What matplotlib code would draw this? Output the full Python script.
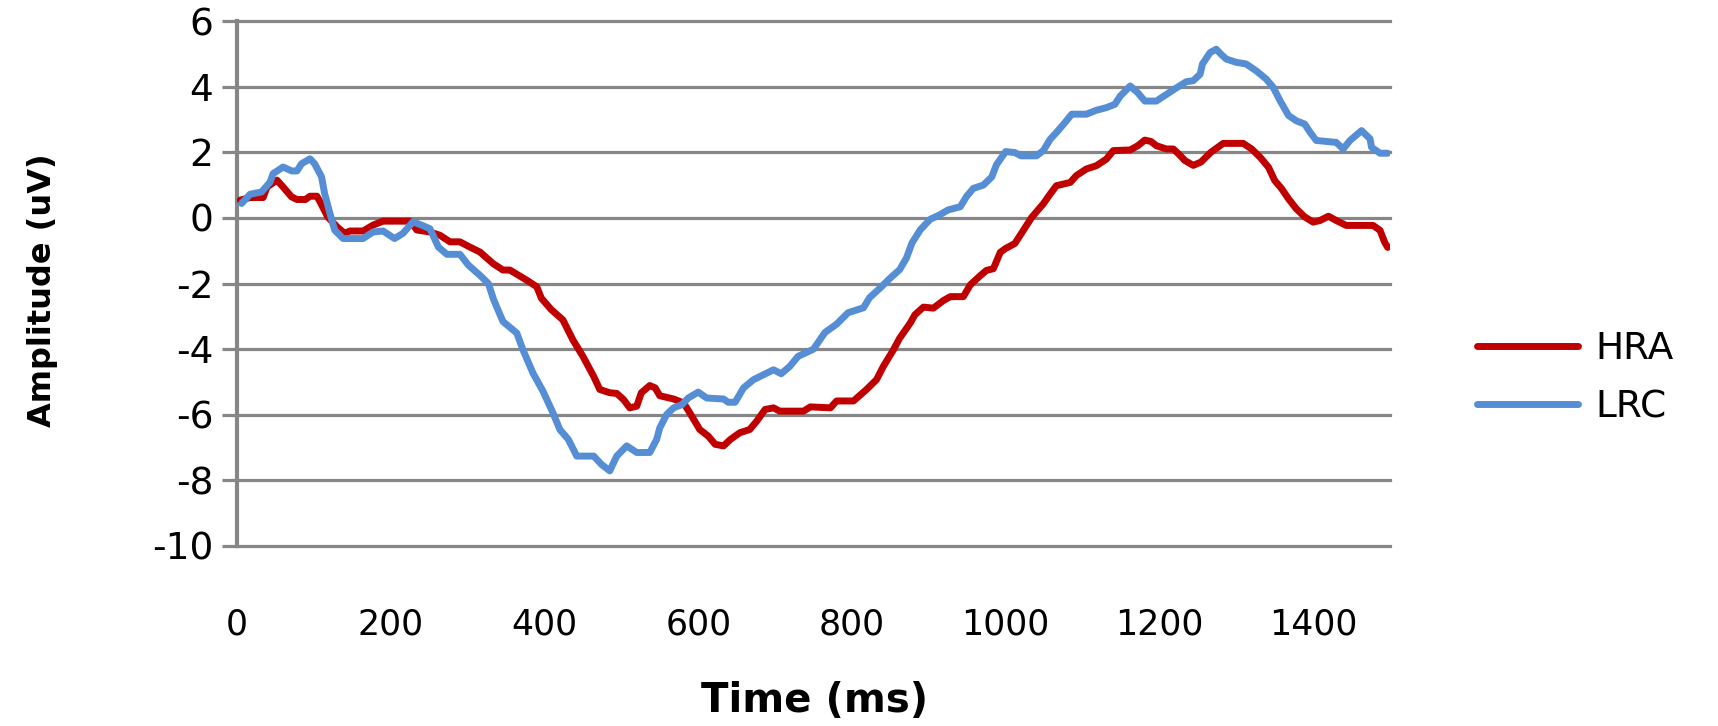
'''plot.py

   Amplitude of the HRA and LRC waveforms over time.
'''

import numpy as np
import matplotlib
matplotlib.use('Agg')
import matplotlib.pyplot as plt


#
#  Data
#
hra_t = [4, 17, 34, 39, 52, 60, 71, 78, 89, 95, 104, 108, 118, 130, 140,
         147, 164, 177, 190, 225, 234, 251, 264, 277, 290, 303, 316, 333,
         346, 355, 377, 390, 396, 409, 424, 437, 450, 464, 472, 485, 494,
         503, 511, 520, 526, 537, 544, 550, 568, 581, 589, 602, 613, 622,
         633, 642, 654, 667, 676, 687, 698, 706, 737, 746, 772, 780, 802,
         819, 832, 841, 854, 862, 876, 882, 893, 906, 919, 928, 945, 954,
         967, 975, 984, 993, 1000, 1012, 1023, 1034, 1049, 1058, 1066, 1084,
         1092, 1105, 1118, 1131, 1140, 1162, 1172, 1181, 1189, 1196, 1209,
         1218, 1225, 1233, 1244, 1254, 1267, 1283, 1309, 1320, 1331, 1342,
         1350, 1359, 1368, 1378, 1389, 1400, 1409, 1420, 1430, 1443, 1478,
         1487, 1493, 1497]
hra_v = [0.54, 0.62, 0.62, 0.94, 1.15, 0.94, 0.64, 0.56, 0.56, 0.66, 0.66,
         0.49, 0.03, -0.27, -0.47, -0.40, -0.40, -0.22, -0.10, -0.10, -0.37,
         -0.43, -0.53, -0.73, -0.73, -0.89, -1.04, -1.39, -1.59, -1.59,
         -1.90, -2.10, -2.45, -2.80, -3.11, -3.72, -4.22, -4.83, -5.23,
         -5.33, -5.35, -5.54, -5.79, -5.74, -5.33, -5.11, -5.18, -5.42,
         -5.52, -5.64, -5.94, -6.45, -6.65, -6.90, -6.95, -6.75, -6.55,
         -6.45, -6.20, -5.84, -5.79, -5.89, -5.89, -5.76, -5.79, -5.58,
         -5.58, -5.23, -4.93, -4.52, -4.02, -3.67, -3.20, -2.95, -2.72,
         -2.75, -2.52, -2.40, -2.40, -2.04, -1.76, -1.60, -1.55, -1.05,
         -0.93, -0.78, -0.38, 0.02, 0.43, 0.73, 0.98, 1.08, 1.29, 1.49, 1.59,
         1.79, 2.05, 2.07, 2.20, 2.37, 2.33, 2.20, 2.10, 2.10, 1.95, 1.75,
         1.60, 1.70, 2.00, 2.27, 2.27, 2.10, 1.85, 1.54, 1.14, 0.89, 0.58,
         0.28, 0.03, -0.13, -0.08, 0.05, -0.08, -0.23, -0.23, -0.38, -0.74,
         -0.90]

lrc_t = [6, 17, 32, 43, 47, 60, 71, 78, 84, 95, 101, 110, 114, 121, 127,
         138, 164, 177, 190, 205, 216, 229, 240, 251, 262, 273, 290, 301,
         316, 327, 334, 346, 364, 372, 385, 398, 411, 420, 431, 442, 464,
         474, 485, 494, 507, 520, 537, 546, 550, 559, 568, 579, 587, 600,
         611, 633, 639, 648, 659, 672, 685, 698, 708, 719, 730, 750, 765,
         780, 795, 815, 823, 837, 850, 862, 871, 878, 889, 902, 914, 925,
         941, 949, 958, 971, 982, 988, 1000, 1012, 1020, 1040, 1049, 1058,
         1066, 1077, 1086, 1105, 1118, 1131, 1142, 1149, 1162, 1172, 1181,
         1196, 1209, 1222, 1235, 1244, 1253, 1256, 1266, 1274, 1280, 1287,
         1300, 1313, 1326, 1339, 1348, 1357, 1368, 1378, 1389, 1396, 1404,
         1430, 1439, 1448, 1463, 1474, 1476, 1487, 1497]
lrc_v = [0.44, 0.72, 0.79, 1.09, 1.35, 1.55, 1.43, 1.43, 1.65, 1.80, 1.65,
         1.25, 0.74, 0.13, -0.37, -0.63, -0.63, -0.43, -0.40, -0.63, -0.47,
         -0.12, -0.22, -0.33, -0.89, -1.11, -1.11, -1.44, -1.75, -2.00,
         -2.50, -3.16, -3.51, -4.02, -4.73, -5.28, -5.94, -6.45, -6.75,
         -7.26, -7.26, -7.51, -7.71, -7.26, -6.95, -7.15, -7.15, -6.75,
         -6.40, -5.99, -5.79, -5.69, -5.49, -5.31, -5.49, -5.52, -5.62,
         -5.62, -5.18, -4.93, -4.78, -4.63, -4.75, -4.53, -4.22, -4.00,
         -3.49, -3.24, -2.89, -2.74, -2.43, -2.13, -1.83, -1.58, -1.22,
         -0.77, -0.36, -0.04, 0.09, 0.24, 0.34, 0.65, 0.90, 1.00, 1.25, 1.62,
         2.02, 1.99, 1.89, 1.89, 2.05, 2.40, 2.60, 2.90, 3.16, 3.16, 3.28,
         3.36, 3.46, 3.71, 4.02, 3.81, 3.56, 3.56, 3.76, 3.96, 4.15, 4.18,
         4.38, 4.69, 5.04, 5.14, 4.99, 4.84, 4.74, 4.69, 4.48, 4.23, 3.98,
         3.57, 3.12, 2.96, 2.86, 2.61, 2.36, 2.30, 2.10, 2.36, 2.66, 2.41,
         2.15, 1.97, 1.97]

x_ticks = [0, 200, 400, 600, 800, 1000, 1200, 1400]
y_ticks = [-10, -8, -6, -4, -2, 0, 2, 4, 6]

RED  = '#C00000'
BLUE = '#558ED5'
GREY = '#868686'


#
#  Figure and axes
#
plt.rcParams['font.family'] = ['DejaVu Sans']
plt.rcParams['axes.unicode_minus'] = False     # plain hyphen like the original

fig = plt.figure(figsize=(17.18, 7.26), dpi=100)
ax = fig.add_axes([237/1718, 1 - 546/726, 1153/1718, 525/726])

ax.plot(hra_t, hra_v, color=RED,  lw=5.0, solid_joinstyle='round',
        solid_capstyle='round', label='HRA', zorder=3)
ax.plot(lrc_t, lrc_v, color=BLUE, lw=5.0, solid_joinstyle='round',
        solid_capstyle='round', label='LRC', zorder=3)

ax.set_xlim(0, 1500)
ax.set_ylim(-10, 6)
ax.set_xticks(x_ticks)
ax.set_yticks(y_ticks)

# Grid and spines
ax.set_axisbelow(True)
ax.yaxis.grid(True, color=GREY, lw=2.3)
ax.xaxis.grid(False)
for gl in ax.yaxis.get_gridlines():
    gl.set_clip_on(False)
for side in ['top', 'right', 'bottom']:
    ax.spines[side].set_visible(False)
ax.spines['left'].set_color(GREY)
ax.spines['left'].set_linewidth(3)

ax.tick_params(axis='y', direction='out', length=11, width=2.3,
               color=GREY, pad=6, labelsize=27)
ax.tick_params(axis='x', length=0, pad=44, labelsize=25)

# Axis labels
ax.set_xlabel('Time (ms)', fontsize=29, fontweight='bold', va='center')
ax.xaxis.set_label_coords(0.501, -0.295)
ax.set_ylabel('Amplitude (uV)', fontsize=23, fontweight='bold', va='center')
ax.yaxis.set_label_coords(-0.169, 0.488)

# Legend off to the right
fig.legend(loc='center left', bbox_to_anchor=(1477/1718, 1 - 378/726),
           frameon=False, fontsize=27, handlelength=2.7, handletextpad=0.45,
           labelspacing=0.6, borderpad=0, borderaxespad=0)

fig.savefig('out.png', dpi=100)
